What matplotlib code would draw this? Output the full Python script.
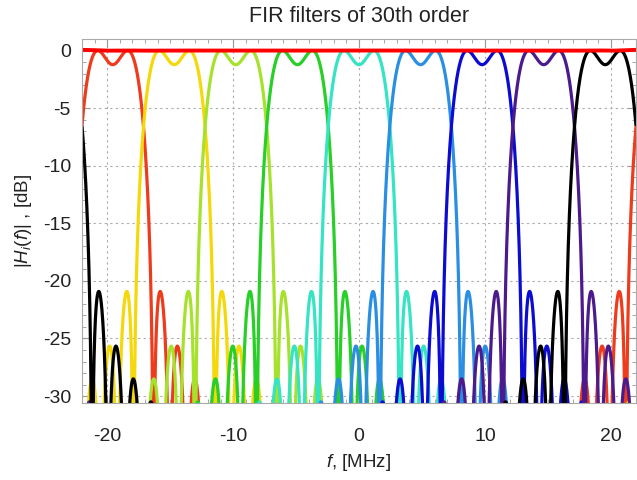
import numpy as np
import matplotlib
matplotlib.use("Agg")
import matplotlib.pyplot as plt
from matplotlib.ticker import MultipleLocator

# ---- data ----
fs_mhz = 44.0                      # sampling rate (x range -22..22 MHz)
fir_order = 30                     # "FIR filters of 30th order"
channel_bw = 44.0 / 9              # channel bandwidth, MHz
centers = [-19.56, -14.67, -9.78, -4.89, 0.0, 4.89, 9.78, 14.67, 19.56]
colors = ["#ee3b1c", "#f4d80a", "#a6e22c", "#27cf27", "#35e4c2",
          "#2a8fe2", "#0b0bd2", "#4c1a8c", "#000000"]
xticks = [-20, -10, 0, 10, 20]
yticks = [0, -5, -10, -15, -20, -25, -30]

plt.rcParams["font.family"] = ["Liberation Sans", "DejaVu Sans"]
plt.rcParams["mathtext.fontset"] = "custom"
plt.rcParams["mathtext.it"] = "Liberation Sans:italic"
plt.rcParams["mathtext.rm"] = "Liberation Sans"
plt.rcParams["axes.unicode_minus"] = False

fig = plt.figure(figsize=(6.37, 4.80), dpi=100)
ax = fig.add_axes([82/637, 77/480, 554/637, 364/480])

n = np.arange(-fir_order // 2, fir_order // 2 + 1)
f = np.linspace(-fs_mhz / 2, fs_mhz / 2, 4001)
E = np.exp(-2j * np.pi * np.outer(f, n) / fs_mhz)

h_total = np.zeros(len(n), dtype=complex)
for c, col in zip(centers, colors):
    h = (channel_bw / fs_mhz) * np.sinc(channel_bw * n / fs_mhz) * np.exp(2j * np.pi * c * n / fs_mhz)
    h_total += h
    H = np.abs(E @ h)
    db = 20 * np.log10(H / H.max())
    ax.plot(f, db, color=col, lw=2.3, solid_capstyle="butt")

Ht = 20 * np.log10(np.abs(E @ h_total) + 1e-12)
ax.plot(f, Ht, color="#ff0000", lw=2.8)

ax.set_xlim(-22, 22)
ax.set_ylim(-30.6, 1.0)
ax.set_xticks(xticks)
ax.set_yticks(yticks)
ax.xaxis.set_minor_locator(MultipleLocator(1))
ax.yaxis.set_minor_locator(MultipleLocator(1))
ax.tick_params(which="both", direction="in", top=True, right=True, colors="#999999",
               labelcolor="#222222", labelsize=14)
ax.tick_params(which="major", length=6, width=0.8)
ax.tick_params(which="minor", length=3, width=0.6)
ax.tick_params(axis="x", pad=18)
ax.tick_params(axis="y", pad=8)
ax.grid(True, which="major", color="#aaaaaa", linestyle=(0, (2, 3)), lw=0.8)
for s in ax.spines.values():
    s.set_color("#aaaaaa")
    s.set_linewidth(0.8)

ax.set_title("FIR filters of 30th order", fontsize=15.5, color="#222222", pad=12)
ax.set_xlabel(r"$f$, [MHz]", fontsize=13.5, color="#222222", labelpad=5)
ax.set_ylabel(r"$|H_i(f)|$ , [dB]", fontsize=13.5, color="#222222", labelpad=6)

fig.savefig("out.png", dpi=100)
